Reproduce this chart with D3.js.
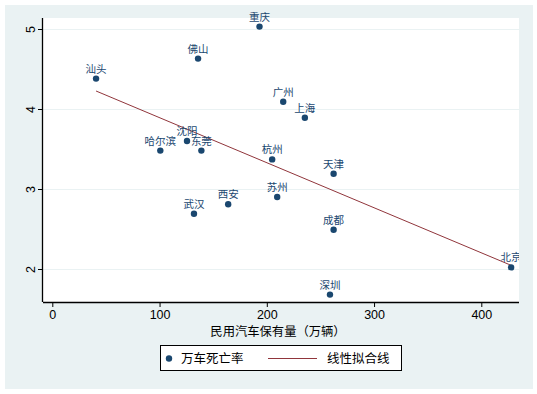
<!DOCTYPE html>
<html>
<head>
<meta charset="utf-8">
<script src="https://cdn.jsdelivr.net/npm/d3@7"></script>
<style>
  body { margin: 0; background: #fff; }
  text { font-family: "Liberation Sans", Arial, sans-serif; }
  .cjk { font-family: "Noto Sans CJK SC", sans-serif; }
</style>
</head>
<body>
<svg id="chart" width="537" height="394"></svg>
<script>
// city, civil car stock (10k vehicles), deaths per 10k vehicles
const cities = ['汕头', '佛山', '重庆', '沈阳', '东莞', '哈尔滨', '广州', '上海',
  '杭州', '天津', '苏州', '西安', '武汉', '成都', '深圳', '北京'];
const cars = [40.8, 135.9, 193.2, 125.6, 139, 100.7, 215.3, 235.5,
  205, 262.3, 209.7, 164, 132.1, 262.3, 258.9, 427.8];
const rates = [4.38, 4.63, 5.03, 3.60, 3.48, 3.48, 4.09, 3.89,
  3.37, 3.19, 2.90, 2.81, 2.69, 2.49, 1.68, 2.02];
const fitCars = [40.8, 427.8];
const fitRates = [4.225, 2.046];
const xTicks = [0, 100, 200, 300, 400];
const yTicks = [2, 3, 4, 5];
const xTitle = '民用汽车保有量（万辆）';
const legendLabels = ['万车死亡率', '线性拟合线'];

const Navy = '#1A476F';
const Maroon = '#90353B';
const BluishGray = '#EAF2F3';

const plot = { left: 43, right: 519, top: 18, bottom: 302 };

const svg = d3.select('#chart');

svg.append('rect')
  .attr('x', 5).attr('y', 5)
  .attr('width', 528).attr('height', 384)
  .attr('fill', BluishGray);

svg.append('rect')
  .attr('x', plot.left).attr('y', plot.top)
  .attr('width', plot.right - plot.left)
  .attr('height', plot.bottom - plot.top)
  .attr('fill', '#fff');

const x = d3.scaleLinear().domain([0, 400]).range([52.3, 481.3]);
const y = d3.scaleLinear().domain([2, 5]).range([269, 29]);

svg.append('defs').append('clipPath')
  .attr('id', 'plot-clip')
  .append('rect')
  .attr('x', plot.left).attr('y', 0)
  .attr('width', plot.right - plot.left).attr('height', plot.bottom);

// grid
svg.append('g')
  .selectAll('line')
  .data(yTicks)
  .enter().append('line')
    .attr('x1', plot.left).attr('x2', plot.right)
    .attr('y1', d => y(d) + 0.5).attr('y2', d => y(d) + 0.5)
    .attr('stroke', BluishGray)
    .attr('stroke-width', 1.2);

// axes
const xAxis = d3.axisBottom(x).tickValues(xTicks).tickFormat(d3.format('d'))
  .tickSize(5).tickPadding(3);
svg.append('g')
  .classed('x axis', true)
  .attr('transform', `translate(0,${plot.bottom})`)
  .call(xAxis)
  .call(g => g.select('.domain')
    .attr('d', `M${plot.left},0.5H${plot.right}`)
    .attr('stroke-width', 1.3))
  .call(g => g.selectAll('text')
    .attr('font-size', 12.5)
    .attr('fill', '#000'));

const yAxis = d3.axisLeft(y).tickValues(yTicks).tickFormat(d3.format('d'))
  .tickSize(5).tickPadding(4);
svg.append('g')
  .classed('y axis', true)
  .attr('transform', `translate(${plot.left},0)`)
  .call(yAxis)
  .call(g => g.select('.domain')
    .attr('d', `M-0.5,${plot.top}V${plot.bottom}`)
    .attr('stroke-width', 1.3))
  .call(g => g.selectAll('text')
    .attr('font-size', 12.5)
    .attr('fill', '#000')
    .attr('text-anchor', 'middle')
    .attr('x', null)
    .attr('transform', 'translate(-12,0) rotate(-90)')
    .attr('dy', '0.35em'));

svg.append('text')
  .classed('cjk', true)
  .attr('x', 278)
  .attr('y', 336)
  .attr('text-anchor', 'middle')
  .attr('font-size', 12.3)
  .text(xTitle);

// fit line
svg.append('line')
  .attr('x1', x(fitCars[0])).attr('y1', y(fitRates[0]))
  .attr('x2', x(fitCars[1])).attr('y2', y(fitRates[1]))
  .attr('stroke', Maroon)
  .attr('stroke-width', 1);

// points
const pts = svg.append('g').attr('clip-path', 'url(#plot-clip)');
pts.selectAll('circle')
  .data(cities)
  .enter().append('circle')
    .attr('cx', (d, i) => x(cars[i]))
    .attr('cy', (d, i) => y(rates[i]))
    .attr('r', 3.2)
    .attr('fill', Navy);

pts.selectAll('text')
  .data(cities)
  .enter().append('text')
    .classed('cjk', true)
    .attr('x', (d, i) => x(cars[i]))
    .attr('y', (d, i) => y(rates[i]) - 6)
    .attr('text-anchor', 'middle')
    .attr('font-size', 10.5)
    .attr('fill', Navy)
    .text(d => d);

// legend
const legend = svg.append('g');
legend.append('rect')
  .attr('x', 160.5).attr('y', 345.5)
  .attr('width', 241).attr('height', 25)
  .attr('fill', '#fff')
  .attr('stroke', '#000')
  .attr('stroke-width', 1);
legend.append('circle')
  .attr('cx', 169).attr('cy', 358.5).attr('r', 3.2)
  .attr('fill', Navy);
legend.append('text')
  .classed('cjk', true)
  .attr('x', 181).attr('y', 363)
  .attr('font-size', 12.5)
  .text(legendLabels[0]);
legend.append('line')
  .attr('x1', 268).attr('x2', 317)
  .attr('y1', 358.5).attr('y2', 358.5)
  .attr('stroke', Maroon)
  .attr('stroke-width', 1);
legend.append('text')
  .classed('cjk', true)
  .attr('x', 327).attr('y', 363)
  .attr('font-size', 12.5)
  .text(legendLabels[1]);
</script>
</body>
</html>
